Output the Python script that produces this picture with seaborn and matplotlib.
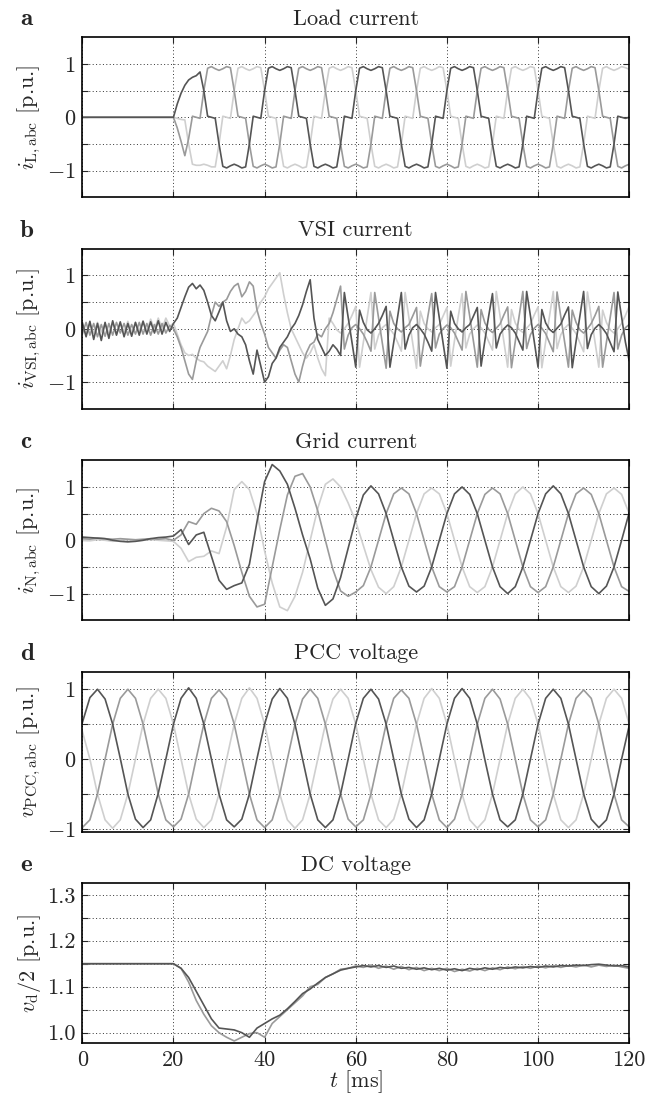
import numpy as np
import pandas as pd
import matplotlib
matplotlib.use("Agg")
import matplotlib.pyplot as plt
import seaborn as sns

# time bases [ms]
t_fine = np.linspace(0, 120, 145)
t_coarse = np.linspace(0, 120, 73)

# a) load current, phases a (dark), b (medium), c (light)
load_a = [0.0, 0.0, 0.0, 0.0, 0.0, 0.0, 0.0, 0.0, 0.0, 0.0, 0.0, 0.0, 0.0,
          0.0, 0.0, 0.0, 0.0, 0.0, 0.0, 0.0, 0.0, 0.0, 0.0, 0.0, 0.0,
          0.25, 0.45, 0.6, 0.7, 0.75, 0.78, 0.85, 0.5, 0.02, 0.0, -0.02,
          -0.5, -0.92, -0.95, -0.91, -0.88, -0.91, -0.95, -0.93, -0.5, 0.02, 0.0, -0.02,
          0.5, 0.92, 0.95, 0.91, 0.88, 0.91, 0.95, 0.93, 0.5, 0.02, 0.0, -0.02,
          -0.5, -0.92, -0.95, -0.91, -0.88, -0.91, -0.95, -0.93, -0.5, 0.02, 0.0, -0.02,
          0.5, 0.92, 0.95, 0.91, 0.88, 0.91, 0.95, 0.93, 0.5, 0.02, 0.0, -0.02,
          -0.5, -0.92, -0.95, -0.91, -0.88, -0.91, -0.95, -0.93, -0.5, 0.02, 0.0, -0.02,
          0.5, 0.92, 0.95, 0.91, 0.88, 0.91, 0.95, 0.93, 0.5, 0.02, 0.0, -0.02,
          -0.5, -0.92, -0.95, -0.91, -0.88, -0.91, -0.95, -0.93, -0.5, 0.02, 0.0, -0.02,
          0.5, 0.92, 0.95, 0.91, 0.88, 0.91, 0.95, 0.93, 0.5, 0.02, 0.0, -0.02,
          -0.5, -0.92, -0.95, -0.91, -0.88, -0.91, -0.95, -0.93, -0.5, 0.02, 0.0, -0.02,
          0.0]
load_b = [0.0, 0.0, 0.0, 0.0, 0.0, 0.0, 0.0, 0.0, 0.0, 0.0, 0.0, 0.0, 0.0,
          0.0, 0.0, 0.0, 0.0, 0.0, 0.0, 0.0, 0.0, 0.0, 0.0, 0.0, 0.0,
          -0.2, -0.45, -0.72, -0.4, 0.02, 0.0, -0.02,
          0.5, 0.92, 0.95, 0.91, 0.88, 0.91, 0.95, 0.93, 0.5, 0.02, 0.0, -0.02,
          -0.5, -0.92, -0.95, -0.91, -0.88, -0.91, -0.95, -0.93, -0.5, 0.02, 0.0, -0.02,
          0.5, 0.92, 0.95, 0.91, 0.88, 0.91, 0.95, 0.93, 0.5, 0.02, 0.0, -0.02,
          -0.5, -0.92, -0.95, -0.91, -0.88, -0.91, -0.95, -0.93, -0.5, 0.02, 0.0, -0.02,
          0.5, 0.92, 0.95, 0.91, 0.88, 0.91, 0.95, 0.93, 0.5, 0.02, 0.0, -0.02,
          -0.5, -0.92, -0.95, -0.91, -0.88, -0.91, -0.95, -0.93, -0.5, 0.02, 0.0, -0.02,
          0.5, 0.92, 0.95, 0.91, 0.88, 0.91, 0.95, 0.93, 0.5, 0.02, 0.0, -0.02,
          -0.5, -0.92, -0.95, -0.91, -0.88, -0.91, -0.95, -0.93, -0.5, 0.02, 0.0, -0.02,
          0.5, 0.92, 0.95, 0.91, 0.88, 0.91, 0.95, 0.93, 0.5, 0.02, 0.0, -0.02,
          -0.5, -0.92, -0.95, -0.91, -0.88]
load_c = [0.0, 0.0, 0.0, 0.0, 0.0, 0.0, 0.0, 0.0, 0.0, 0.0, 0.0, 0.0, 0.0,
          0.0, 0.0, 0.0, 0.0, 0.0, 0.0, 0.0, 0.0, 0.0, 0.0, 0.0, 0.0,
          -0.02, -0.04, -0.05, -0.5, -0.88, -0.9, -0.9, -0.88, -0.9, -0.93, -0.93,
          -0.5, 0.02, 0.0, -0.02,
          0.5, 0.92, 0.95, 0.91, 0.88, 0.91, 0.95, 0.93, 0.5, 0.02, 0.0, -0.02,
          -0.5, -0.92, -0.95, -0.91, -0.88, -0.91, -0.95, -0.93, -0.5, 0.02, 0.0, -0.02,
          0.5, 0.92, 0.95, 0.91, 0.88, 0.91, 0.95, 0.93, 0.5, 0.02, 0.0, -0.02,
          -0.5, -0.92, -0.95, -0.91, -0.88, -0.91, -0.95, -0.93, -0.5, 0.02, 0.0, -0.02,
          0.5, 0.92, 0.95, 0.91, 0.88, 0.91, 0.95, 0.93, 0.5, 0.02, 0.0, -0.02,
          -0.5, -0.92, -0.95, -0.91, -0.88, -0.91, -0.95, -0.93, -0.5, 0.02, 0.0, -0.02,
          0.5, 0.92, 0.95, 0.91, 0.88, 0.91, 0.95, 0.93, 0.5, 0.02, 0.0, -0.02,
          -0.5, -0.92, -0.95, -0.91, -0.88, -0.91, -0.95, -0.93, -0.5, 0.02, 0.0, -0.02,
          0.5, 0.92, 0.95, 0.91, 0.88, 0.91, 0.95, 0.93, 0.9]

# b) VSI current
vsi_a = [0.12, -0.15, 0.14, -0.2, 0.1, -0.22, 0.12, -0.18, 0.15, -0.12, 0.13, -0.15, 0.1,
         -0.14, 0.12, -0.12, 0.14, -0.1, 0.13, -0.08, 0.15, -0.1, 0.12, -0.05, 0.1,
         0.2, 0.4, 0.6, 0.78, 0.85, 0.75, 0.82, 0.72, 0.5, 0.25, 0.15, 0.32, 0.5, 0.15,
         -0.05, 0.0, -0.1, -0.15, -0.3, -0.6, -0.85, -0.4, -0.7, -1.0, -0.9, -0.65, -0.55,
         -0.35, -0.25, -0.15, 0.0, 0.1, 0.25, 0.45, 0.7,
         0.92, 0.2, -0.2, -0.35, -0.5, -0.42, -0.3, -0.38, -0.5, 0.68,
         0.22, -0.25, -0.72, 0.35, 0.12, -0.02, -0.08, 0.0, 0.1, 0.25, 0.42, -0.72,
         -0.25, 0.22, 0.68, -0.38, -0.12, 0.02, 0.08, 0.0, -0.1, -0.25, -0.42, 0.68,
         0.2, -0.27, -0.74, 0.33, 0.1, 0.0, -0.06, 0.02, 0.08, 0.24, 0.4, -0.7,
         -0.22, 0.24, 0.66, -0.36, -0.1, 0.0, 0.07, 0.02, -0.08, -0.24, -0.4, 0.7,
         0.24, -0.24, -0.72, 0.36, 0.11, -0.01, -0.07, 0.01, 0.09, 0.26, 0.41, -0.73,
         -0.24, 0.23, 0.7, -0.37, -0.11, 0.01, 0.08, 0.01, -0.09, -0.26, -0.43, 0.69,
         0.22, -0.25, -0.6]
vsi_b = [-0.1, 0.12, -0.12, 0.1, -0.15, 0.08, -0.14, 0.1, -0.12, 0.12, -0.08, 0.1, -0.12,
         0.08, -0.1, 0.12, -0.1, 0.1, -0.12, 0.08, -0.1, 0.1, -0.08, 0.06, 0.0,
         -0.15, -0.35, -0.6, -0.85, -0.95, -0.6, -0.35, -0.2, -0.05, 0.25, 0.5, 0.42,
         0.5, 0.55, 0.7, 0.8, 0.85, 0.6, 0.7, 0.88, 0.8, 0.35, 0.1, -0.1, -0.35, -0.45,
         -0.55, -0.4, -0.3, -0.35, -0.6, -0.85, -1.0, -0.7, -0.45, -0.3, -0.25, -0.1,
         -0.15, 0.0, 0.1, 0.3, 0.55, 0.8,
         -0.38, -0.12, 0.02, 0.08, 0.0, -0.1, -0.25, -0.42, 0.68,
         0.2, -0.27, -0.74, 0.33, 0.1, 0.0, -0.06, 0.02, 0.08, 0.24, 0.4, -0.7,
         -0.22, 0.24, 0.66, -0.36, -0.1, 0.0, 0.07, 0.02, -0.08, -0.24, -0.4, 0.7,
         0.24, -0.24, -0.72, 0.36, 0.11, -0.01, -0.07, 0.01, 0.09, 0.26, 0.41, -0.73,
         -0.24, 0.23, 0.7, -0.37, -0.11, 0.01, 0.08, 0.01, -0.09, -0.26, -0.43, 0.69,
         0.22, -0.25, -0.72, 0.35, 0.12, -0.02, -0.08, 0.0, 0.1, 0.25, 0.42, -0.72,
         -0.25, 0.22, 0.68, -0.38, -0.12, 0.02, 0.08]
vsi_c = [0.08, -0.1, 0.1, -0.08, 0.12, -0.06, 0.1, -0.08, 0.12, -0.1, 0.1, -0.06, 0.14,
         -0.08, 0.12, -0.04, 0.15, -0.05, 0.18, -0.02, 0.2, 0.0, 0.2, 0.05, 0.1,
         -0.1, -0.3, -0.45, -0.5, -0.48, -0.55, -0.6, -0.62, -0.7, -0.75, -0.8, -0.7,
         -0.6, -0.75, -0.5, -0.2, 0.0, 0.2, 0.1, 0.15, 0.25, 0.35, 0.5, 0.6, 0.75, 0.85,
         0.95, 1.05, 0.65, 0.3, 0.0, -0.15, -0.3, -0.45, -0.55, -0.45, -0.3, -0.55,
         -0.75, -0.88, 0.2, 0.1,
         -0.02, -0.08, 0.0, 0.1, 0.25, 0.42, -0.72, -0.25, 0.22, 0.68, -0.38, -0.12,
         0.02, 0.08, 0.0, -0.1, -0.25, -0.42, 0.68,
         0.2, -0.27, -0.74, 0.33, 0.1, 0.0, -0.06, 0.02, 0.08, 0.24, 0.4, -0.7,
         -0.22, 0.24, 0.66, -0.36, -0.1, 0.0, 0.07, 0.02, -0.08, -0.24, -0.4, 0.7,
         0.24, -0.24, -0.72, 0.36, 0.11, -0.01, -0.07, 0.01, 0.09, 0.26, 0.41, -0.73,
         -0.24, 0.23, 0.7, -0.37, -0.11, 0.01, 0.08, 0.01, -0.09, -0.26, -0.43, 0.69,
         0.22, -0.25, -0.72, 0.35, 0.12, -0.02, -0.08, 0.0, 0.1, 0.25, 0.42]

# c) grid current
grid_a = [0.06, 0.05, 0.04, 0.03, 0.0, -0.02, -0.03, -0.02, 0.0, 0.03, 0.05, 0.06,
          0.08, 0.2, -0.08, 0.1, 0.15, -0.3, -0.75, -0.92, -0.85, -0.8, -0.45, 0.35,
          1.1, 1.42, 1.3, 1.05, 0.6, 0.1, -0.35, -0.9, -1.22, -1.1, -0.7, -0.15, 0.4, 0.85,
          1.02, 0.87, 0.5, 0.0, -0.5, -0.86, -0.97, -0.86, -0.5, 0.0, 0.5, 0.87,
          1.0, 0.86, 0.5, 0.0, -0.5, -0.87, -1.0, -0.87, -0.5, 0.0, 0.5, 0.87,
          1.02, 0.87, 0.5, 0.0, -0.5, -0.87, -1.0, -0.86, -0.5, 0.0, 0.52]
grid_b = [0.03, 0.02, 0.04, 0.03, 0.02, 0.03, 0.02, 0.01, 0.02, 0.03, 0.02, 0.03,
          0.0, 0.1, 0.35, 0.3, 0.5, 0.6, 0.55, 0.35, -0.1, -0.6, -1.05, -1.25,
          -1.2, -0.5, 0.2, 0.85, 1.2, 1.25, 1.0, 0.55, 0.0, -0.55, -0.95, -1.05,
          -0.97, -0.85, -0.5, 0.0, 0.5, 0.87,
          0.98, 0.87, 0.5, 0.0, -0.5, -0.87, -0.97, -0.87, -0.5, 0.0, 0.5, 0.86,
          0.98, 0.87, 0.5, 0.0, -0.5, -0.87, -0.98, -0.87, -0.5, 0.0, 0.5, 0.87,
          0.98, 0.86, 0.5, 0.0, -0.5, -0.87, -0.96]
grid_c = [0.0, -0.01, 0.01, 0.0, -0.02, 0.0, 0.01, -0.01, 0.0, 0.01, 0.0, -0.01,
          -0.02, -0.15, -0.4, -0.32, -0.3, -0.2, -0.25, 0.25, 0.95, 1.1, 0.95, 0.5,
          -0.2, -0.8, -1.25, -1.32, -1.05, -0.6, 0.0, 0.6, 1.05, 1.15, 1.0, 0.7,
          0.35, -0.1, -0.55, -0.88, -1.0, -0.87, -0.5, 0.0, 0.5, 0.87,
          0.98, 0.87, 0.5, 0.0, -0.5, -0.87, -0.98, -0.87, -0.5, 0.0, 0.5, 0.87,
          1.0, 0.87, 0.5, 0.0, -0.5, -0.87, -0.98, -0.86, -0.5, 0.0, 0.5, 0.87,
          0.98, 0.86, 0.5]

# d) PCC voltage
pcc_a = [0.52, 0.88, 1.0, 0.86, 0.5, 0.01, -0.5, -0.86, -0.98, -0.87, -0.49, 0.0,
         0.5, 0.87, 1.02, 0.87, 0.5, 0.0, -0.5, -0.87, -0.97, -0.86, -0.5, 0.01,
         0.5, 0.86, 1.01, 0.87, 0.5, 0.0, -0.5, -0.87, -0.98, -0.87, -0.5, 0.0,
         0.51, 0.87, 1.0, 0.86, 0.5, 0.0, -0.5, -0.86, -0.98, -0.87, -0.5, 0.0,
         0.5, 0.87, 1.01, 0.87, 0.5, -0.01, -0.5, -0.87, -0.97, -0.87, -0.5, 0.0,
         0.5, 0.87, 1.0, 0.87, 0.5, 0.0, -0.5, -0.86, -0.98, -0.87, -0.5, 0.0,
         0.48]
pcc_b = [-0.98, -0.87, -0.5, 0.0, 0.5, 0.87, 1.0, 0.87, 0.5, 0.0, -0.5, -0.87,
         -0.97, -0.86, -0.5, 0.01, 0.5, 0.87, 0.99, 0.86, 0.5, 0.0, -0.5, -0.87,
         -0.98, -0.87, -0.5, 0.0, 0.5, 0.86, 1.0, 0.87, 0.5, 0.0, -0.5, -0.86,
         -0.97, -0.87, -0.5, 0.0, 0.5, 0.87, 0.99, 0.87, 0.5, 0.01, -0.5, -0.87,
         -0.98, -0.86, -0.5, 0.0, 0.5, 0.87, 1.0, 0.86, 0.5, 0.0, -0.5, -0.87,
         -0.97, -0.87, -0.5, 0.0, 0.5, 0.87, 0.99, 0.87, 0.5, 0.0, -0.5, -0.87,
         -0.97]
pcc_c = [0.4, 0.0, -0.5, -0.87, -0.99, -0.87, -0.5, 0.0, 0.5, 0.87, 1.0, 0.87,
         0.5, 0.0, -0.5, -0.86, -0.98, -0.87, -0.5, 0.0, 0.5, 0.87, 1.02, 0.87,
         0.5, 0.0, -0.5, -0.87, -0.99, -0.87, -0.5, 0.0, 0.5, 0.86, 1.0, 0.87,
         0.5, 0.0, -0.5, -0.87, -0.98, -0.86, -0.5, 0.0, 0.5, 0.87, 1.01, 0.87,
         0.5, 0.0, -0.5, -0.87, -0.99, -0.87, -0.5, 0.0, 0.5, 0.87, 1.0, 0.86,
         0.5, 0.0, -0.5, -0.87, -0.98, -0.87, -0.5, 0.0, 0.5, 0.87, 1.0, 0.87,
         0.5]

# e) DC-link half voltages
dc_upper = [1.15, 1.15, 1.15, 1.15, 1.15, 1.15, 1.15, 1.15, 1.15, 1.15, 1.15, 1.15, 1.15,
            1.14, 1.12, 1.09, 1.06, 1.03, 1.01, 1.008, 1.006, 1.0, 0.99, 1.01, 1.02,
            1.03, 1.038, 1.052, 1.068, 1.085, 1.095, 1.108, 1.12, 1.128, 1.136, 1.14,
            1.143, 1.146, 1.143, 1.146, 1.142, 1.145, 1.14, 1.142, 1.138, 1.141, 1.137,
            1.14, 1.136, 1.139, 1.135, 1.14, 1.137, 1.141, 1.138, 1.142, 1.14, 1.143,
            1.141, 1.144, 1.142, 1.145, 1.143, 1.146, 1.145, 1.147, 1.146, 1.148, 1.149,
            1.147, 1.145, 1.146, 1.143]
dc_lower = [1.15, 1.15, 1.15, 1.15, 1.15, 1.15, 1.15, 1.15, 1.15, 1.15, 1.15, 1.15, 1.15,
            1.14, 1.11, 1.07, 1.04, 1.015, 1.0, 0.99, 0.982, 0.99, 0.998, 1.0, 0.99,
            1.02, 1.035, 1.05, 1.065, 1.08, 1.1, 1.105, 1.12, 1.128, 1.138, 1.14,
            1.145, 1.142, 1.147, 1.14, 1.145, 1.138, 1.144, 1.137, 1.142, 1.135, 1.14,
            1.135, 1.14, 1.133, 1.138, 1.134, 1.14, 1.135, 1.141, 1.137, 1.143, 1.139,
            1.144, 1.14, 1.145, 1.141, 1.146, 1.142, 1.146, 1.143, 1.147, 1.143, 1.147,
            1.144, 1.147, 1.143, 1.14]

colors = {"a": "#555555", "b": "#9a9a9a", "c": "#cfcfcf"}

panels = [
    ("a", "Load current", r"$i_{\mathrm{L,abc}}$ [p.u.]", t_fine,
     {"a": load_a, "b": load_b, "c": load_c}, (-1.5, 1.5)),
    ("b", "VSI current", r"$i_{\mathrm{VSI,abc}}$ [p.u.]", t_fine,
     {"a": vsi_a, "b": vsi_b, "c": vsi_c}, (-1.5, 1.5)),
    ("c", "Grid current", r"$i_{\mathrm{N,abc}}$ [p.u.]", t_coarse,
     {"a": grid_a, "b": grid_b, "c": grid_c}, (-1.5, 1.5)),
    ("d", "PCC voltage", r"$v_{\mathrm{PCC,abc}}$ [p.u.]", t_coarse,
     {"a": pcc_a, "b": pcc_b, "c": pcc_c}, (-1.04, 1.25)),
    ("e", "DC voltage", r"$v_{\mathrm{d}}/2$ [p.u.]", t_coarse,
     {"a": dc_upper, "b": dc_lower}, (0.977, 1.325)),
]

sns.set_style("ticks")
plt.rcParams["font.family"] = "serif"
plt.rcParams["font.serif"] = ["cmr10"]
plt.rcParams["mathtext.fontset"] = "cm"
plt.rcParams["axes.unicode_minus"] = False
plt.rcParams["axes.formatter.use_mathtext"] = True

fig, axes = plt.subplots(5, 1, figsize=(6.48, 10.97), dpi=100)
fig.subplots_adjust(left=0.127, right=0.971, top=0.966, bottom=0.049, hspace=0.322)

for ax, (letter, title, ylabel, t, series, ylim) in zip(axes, panels):
    names = list(series.keys())
    df = pd.DataFrame({
        "t": np.tile(t, len(names)),
        "v": np.concatenate([series[k] for k in names]),
        "phase": np.repeat(names, len(t)),
    })
    sns.lineplot(data=df, x="t", y="v", hue="phase", hue_order=names[::-1],
                 palette=colors, estimator=None, legend=False, lw=1.2, ax=ax)

    ax.set_xlim(0, 120)
    ax.set_ylim(*ylim)
    ax.set_xticks(range(0, 121, 20))
    if letter == "e":
        ax.set_yticks([1.0, 1.05, 1.1, 1.15, 1.2, 1.25, 1.3])
        ax.set_yticklabels(["1.0", "", "1.1", "", "1.2", "", "1.3"])
        ax.set_xticklabels([str(v) for v in range(0, 121, 20)])
        ax.set_xlabel(r"$t$ [ms]", fontsize=16)
        ax.xaxis.set_label_coords(0.5, -0.155)
    else:
        ax.set_yticks([-1, -0.5, 0, 0.5, 1])
        ax.set_yticklabels([r"$-1$", "", "0", "", "1"])
        ax.set_xticklabels([])
        ax.set_xlabel("")

    ax.grid(True, ls=(0, (1, 2.5)), color="#333333", lw=0.7)
    ax.tick_params(direction="in", top=True, right=True, length=4, width=0.8,
                   labelsize=16, pad=5)
    for sp in ax.spines.values():
        sp.set_linewidth(1.2)
        sp.set_color("black")

    ax.set_ylabel(ylabel, fontsize=16)
    ax.yaxis.set_label_coords(-0.072, 0.5)
    ax.set_title(title, fontsize=16, pad=9)
    ax.text(-0.114, 1.075, letter, transform=ax.transAxes, fontsize=18,
            family="cmb10", va="baseline", ha="left")

fig.savefig("out.png", dpi=100)
